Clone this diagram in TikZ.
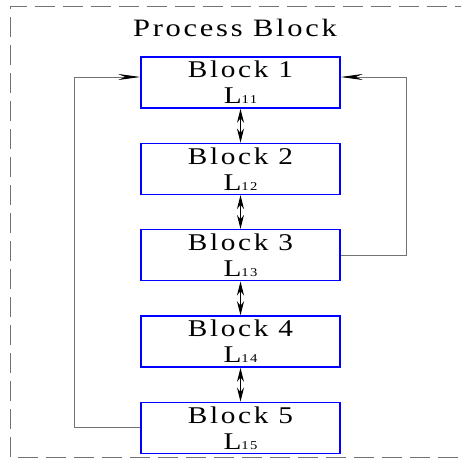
\documentclass[tikz,border=0pt]{standalone}
\usepackage{fontspec}
\setmainfont[LetterSpace=9]{Liberation Serif}
\usetikzlibrary{positioning,arrows.meta}
\newcommand{\wide}[1]{\scalebox{1.22}[1]{#1}}
\newcommand{\blk}[1]{\wide{Block #1}\\\wide{L{\fontsize{12}{12}\selectfont 1#1}}}

\begin{document}
\begin{tikzpicture}[x=1pt,y=1pt,
    blockbox/.style={draw=blue,line width=1.6pt,minimum width=199pt,minimum height=51pt,
      inner sep=0pt,align=center,font=\fontsize{24}{26}\selectfont},
    loopline/.style={draw=black!55,line width=0.8pt,
      -{Stealth[length=22pt,width=6pt,black]}},
    linkline/.style={line width=1pt,
      {Stealth[length=14pt,width=7pt]}-{Stealth[length=14pt,width=7pt]}}]
    \useasboundingbox (0,0) rectangle (461,461);
    \clip (0,0) rectangle (461,461);
    \draw[black!55,line width=0.8pt,dash pattern=on 20pt off 8pt]
      (475,455) -- (10,455) -- (10,4) -- (475,4);
    \node[font=\fontsize{25}{25}\selectfont] (title) at (235,433) {\wide{Process Block}};
    \node[blockbox] (b1) at (240.5,378.5) {\blk{1}};
    \foreach \i/\j in {2/1,3/2,4/3,5/4}{
      \node[blockbox,below=33.75pt of b\j] (b\i) {\blk{\i}};
      \draw[linkline] (b\j.south) -- (b\i.north);}
    \draw[loopline] (b5.west) -- ++(-66,0) |- ([yshift=5.5pt]b1.west);
    \draw[loopline] (b3.east) -- ++(66,0) |- ([yshift=5.5pt]b1.east);
\end{tikzpicture}
\end{document}
